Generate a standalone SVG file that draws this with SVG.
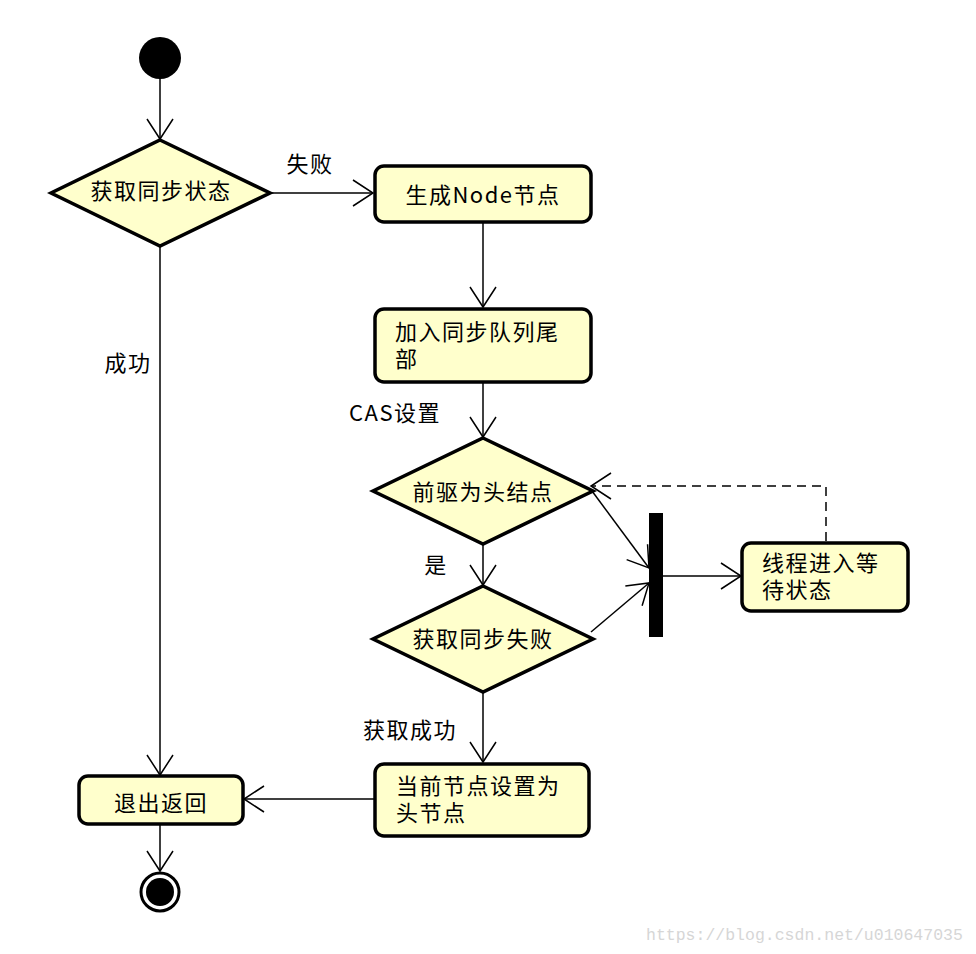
<svg xmlns="http://www.w3.org/2000/svg" width="976" height="954" viewBox="0 0 976 954">
<defs>
<marker id="arr" markerUnits="userSpaceOnUse" markerWidth="26" markerHeight="30" viewBox="-22 -15 24 30" refX="0" refY="0" orient="auto" overflow="visible">
<path d="M-20,-13 L0,0 L-20,13" fill="none" stroke="#000" stroke-width="1.5"/>
</marker>
<style>
.n{fill:#ffffcc;stroke:#000;stroke-width:3.5}
.c{fill:none;stroke:#000;stroke-width:1.5;marker-end:url(#arr)}
.d{stroke-dasharray:9 6}
text{font-family:"Noto Sans CJK SC","Noto Sans",sans-serif;font-size:22px;fill:#000;letter-spacing:1.5px}
.m{text-anchor:middle;dominant-baseline:central}
.wm{font-family:"Liberation Mono",monospace;font-size:16.5px;fill:#d6d6d6;letter-spacing:0}
</style>
</defs>
<rect width="976" height="954" fill="#fff"/>
<g id="connectors">
<line class="c" x1="160" y1="79" x2="160" y2="139"/>
<line class="c" x1="270" y1="193" x2="373" y2="193"/>
<line class="c" x1="483" y1="223" x2="483" y2="307"/>
<line class="c" x1="483" y1="383" x2="483" y2="437"/>
<line class="c" x1="483" y1="545" x2="483" y2="585"/>
<line class="c" x1="592" y1="491" x2="649" y2="568"/>
<line class="c" x1="591" y1="632" x2="649" y2="583"/>
<line class="c" x1="663" y1="576" x2="741" y2="576"/>
<polyline class="c d" points="826,541 826,486 591,486"/>
<line class="c" x1="483" y1="693" x2="483" y2="762"/>
<line class="c" x1="374" y1="799" x2="244" y2="799"/>
<line class="c" x1="160" y1="246" x2="160" y2="775"/>
<line class="c" x1="160" y1="825" x2="160" y2="871"/>
<text x="310" y="162" class="m">失败</text>
<text x="128" y="361" class="m">成功</text>
<text x="395" y="411" class="m">CAS设置</text>
<text x="436" y="563" class="m">是</text>
<text x="410" y="728" class="m">获取成功</text>
</g>
<g id="start"><circle cx="160" cy="58" r="21" fill="#000"/></g>
<g id="d1"><polygon class="n" points="160,140 270,193 160,246 51,193"/><text x="161" y="189" class="m">获取同步状态</text></g>
<g id="b1"><rect class="n" x="375" y="166" width="216" height="56" rx="9"/><text x="483" y="193" class="m">生成Node节点</text></g>
<g id="b2"><rect class="n" x="375" y="309" width="216" height="73" rx="9"/><text x="395" y="340"><tspan x="395">加入同步队列尾</tspan><tspan x="395" dy="27">部</tspan></text></g>
<g id="d2"><polygon class="n" points="483,438 593,491 483,544 373,491"/><text x="483" y="490" class="m">前驱为头结点</text></g>
<g id="d3"><polygon class="n" points="483,586 593,639 483,692 373,639"/><text x="483" y="637" class="m">获取同步失败</text></g>
<g id="bar"><rect x="649" y="513" width="14" height="124" fill="#000"/></g>
<g id="b3"><rect class="n" x="742" y="543" width="166" height="68" rx="9"/><text x="762" y="571"><tspan x="762">线程进入等</tspan><tspan x="762" dy="27">待状态</tspan></text></g>
<g id="b4"><rect class="n" x="375" y="764" width="214" height="72" rx="9"/><text x="396" y="794"><tspan x="396">当前节点设置为</tspan><tspan x="396" dy="27">头节点</tspan></text></g>
<g id="b5"><rect class="n" x="79" y="776" width="164" height="48" rx="9"/><text x="161" y="801" class="m">退出返回</text></g>
<g id="end"><circle cx="160" cy="892" r="19" fill="#fff" stroke="#000" stroke-width="3"/><circle cx="160" cy="892" r="14" fill="#000"/></g>
<text x="646" y="940" class="wm">https://blog.csdn.net/u010647035</text>
</svg>
